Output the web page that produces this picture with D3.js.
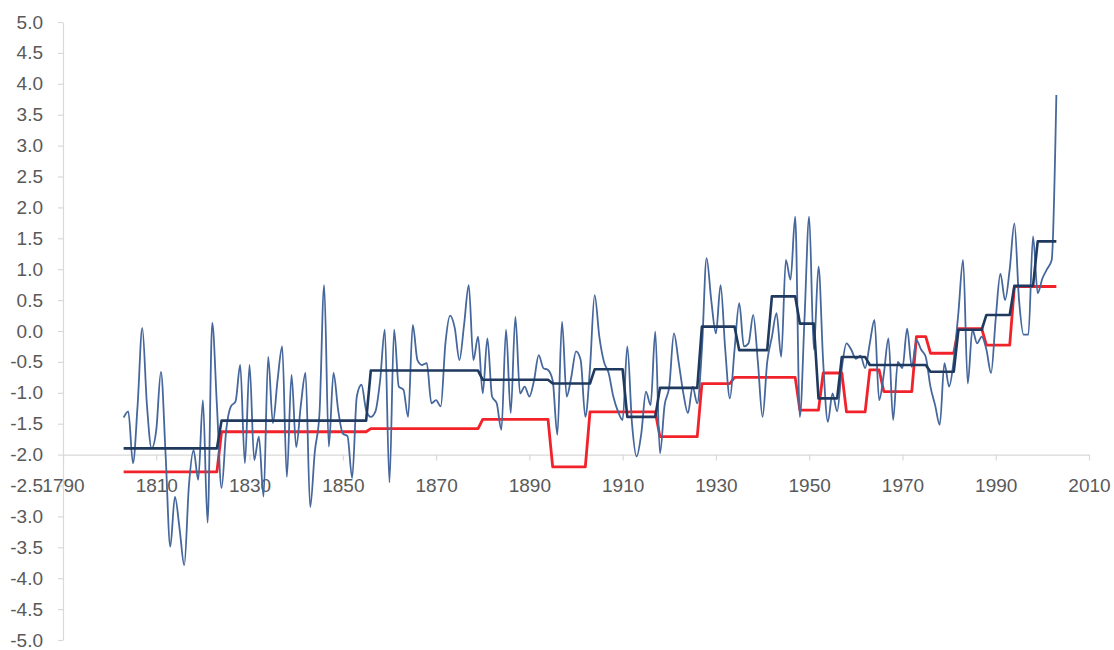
<!DOCTYPE html>
<html>
<head>
<meta charset="utf-8">
<script src="https://cdn.jsdelivr.net/npm/d3@7"></script>
<style>
  html, body { margin: 0; padding: 0; background: #ffffff; }
  svg { display: block; }
  .axis text { font-family: "Liberation Sans", Arial, sans-serif; font-size: 19px; fill: #595959; }
  .axis path, .axis line { stroke: #d9d9d9; stroke-width: 1.2; }
</style>
</head>
<body>
<svg id="chart" width="1114" height="650"></svg>
<script>
// Annual index values, 1803–2003
const firstYear = 1803;
const annualValues = [
  -1.4, -1.3, -2.14, -1.2, 0.05, -1.2, -1.9, -1.6, -0.66, -2.0,          // 1803–1812
  -3.49, -2.68, -3.2, -3.79, -2.5, -1.93, -2.41, -1.12, -3.1, 0.13,       // 1813–1822
  -1.2, -2.54, -1.6, -1.22, -1.14, -0.55, -2.14, -0.55, -2.09, -1.71,     // 1823–1832
  -2.68, -0.42, -1.49, -0.8, -0.25, -2.36, -0.71, -1.88, -1.2, -0.68,     // 1833–1842
  -2.85, -1.95, -1.33, 0.74, -1.87, -0.68, -1.28, -1.66, -1.7, -2.38,     // 1843–1852
  -1.06, -0.87, -1.28, -1.39, -1.3, -0.8, 0.02, -2.45, 0.02, -0.9,        // 1853–1862
  -0.95, -1.39, 0.1, -0.47, -0.55, -0.52, -1.17, -1.12, -1.22, -0.2,      // 1863–1872
  0.25, 0.05, -0.47, 0.1, 0.74, -0.47, -0.09, -1.01, -0.12, -1.06,        // 1873–1882
  -1.17, -1.6, 0.02, -1.33, 0.23, -1.01, -0.9, -1.06, -0.8, -0.39,        // 1883–1892
  -0.6, -0.63, -0.8, -1.68, 0.15, -1.06, -0.74, -0.33, -0.47, -1.39,      // 1893–1902
  -0.6, 0.58, -0.09, -0.5, -0.68, -1.06, -1.3, -1.44, -0.25, -1.49,       // 1903–1912
  -2.03, -1.66, -0.98, -1.2, -0.01, -1.98, -1.2, -0.9, -0.04, -0.5,       // 1913–1922
  -1.0, -1.33, -0.9, -1.17, -0.3, 1.18, 0.5, -0.04, 0.74, -0.3,           // 1923–1932
  -1.09, -0.3, 0.45, -0.25, -0.2, 0.26, -0.5, -1.39, -0.5, -0.1,          // 1933–1942
  0.29, -0.42, 1.15, 0.83, 1.85, -1.39, 0.2, 1.85, -0.3, 1.04,            // 1943–1952
  -0.5, -1.47, -1.01, -1.3, -0.6, -0.2, -0.3, -0.45, -0.4, -0.6,          // 1953–1962
  -0.2, 0.18, -1.12, -0.7, -0.12, -1.44, -0.5, -0.6, 0.04, -0.58,         // 1963–1972
  -0.15, -0.3, -0.42, -0.9, -1.2, -1.52, -0.52, -0.9, -0.47, 0.3,         // 1973–1982
  1.15, -0.85, 0.02, -0.2, -0.09, -0.3, -0.68, 0.2, 0.93, 0.5,            // 1983–1992
  1.0, 1.74, 0.5, -0.06, -0.06, 1.53, 0.61, 0.85, 1.0, 1.15,              // 1993–2002
  3.82                                                                     // 2003
];

// Regime means (navy step line)
const regimeStart = [1803, 1824, 1856, 1880, 1895, 1904, 1911, 1918, 1927, 1935, 1942, 1948, 1952, 1957, 1963, 1976, 1982, 1988, 1994, 1999];
const regimeEnd   = [1823, 1855, 1879, 1894, 1903, 1910, 1917, 1926, 1934, 1941, 1947, 1951, 1956, 1962, 1975, 1981, 1987, 1993, 1998, 2003];
const regimeMean  = [-1.9, -1.45, -0.64, -0.79, -0.85, -0.62, -1.39, -0.92, 0.07, -0.31, 0.56, 0.12, -1.09, -0.42, -0.55, -0.66, 0.02, 0.26, 0.73, 1.45];

// Baseline levels (red step line)
const baseStart = [1803, 1824, 1856, 1880, 1895, 1903, 1918, 1927, 1934, 1948, 1953, 1958, 1963, 1966, 1973, 1976, 1982, 1988, 1994];
const baseEnd   = [1823, 1855, 1879, 1894, 1902, 1917, 1926, 1933, 1947, 1952, 1957, 1962, 1965, 1972, 1975, 1981, 1987, 1993, 2003];
const baseLevel = [-2.28, -1.63, -1.58, -1.43, -2.2, -1.31, -1.71, -0.85, -0.75, -1.28, -0.68, -1.31, -0.63, -0.98, -0.09, -0.36, 0.04, -0.23, 0.72];

// Axis tick values
const xTicks = [1790, 1810, 1830, 1850, 1870, 1890, 1910, 1930, 1950, 1970, 1990, 2010];
const yTicks = [5.0, 4.5, 4.0, 3.5, 3.0, 2.5, 2.0, 1.5, 1.0, 0.5, 0.0, -0.5, -1.0, -1.5, -2.0, -2.5, -3.0, -3.5, -4.0, -4.5, -5.0];
const xCross = -2.0;

const svg = d3.select("#chart");

const x = d3.scaleLinear().domain([1790, 2010]).range([63, 1089]);
const y = d3.scaleLinear().domain([-5, 5]).range([640, 22]);

// Axes
svg.append("g")
  .attr("class", "axis")
  .attr("transform", "translate(63,0)")
  .call(d3.axisLeft(y).tickValues(yTicks).tickSize(5).tickSizeOuter(0).tickPadding(15)
    .tickFormat(d => d.toFixed(1)));

svg.append("g")
  .attr("class", "axis")
  .attr("transform", `translate(0,${y(xCross)})`)
  .call(d3.axisBottom(x).tickValues(xTicks).tickSize(6).tickSizeOuter(0).tickPadding(18)
    .tickFormat(d3.format("d")));

// Build series points
const annual = annualValues.map((v, i) => ({ year: firstYear + i, value: v }));
const stepPoints = (starts, ends, vals) =>
  starts.flatMap((s, i) => [{ year: s, value: vals[i] }, { year: ends[i], value: vals[i] }]);

const straight = d3.line().x(d => x(d.year)).y(d => y(d.value));
const smooth = d3.line().x(d => x(d.year)).y(d => y(d.value)).curve(d3.curveMonotoneX);

svg.append("path")
  .datum(stepPoints(baseStart, baseEnd, baseLevel))
  .attr("fill", "none")
  .attr("stroke", "#f2222b")
  .attr("stroke-width", 2.8)
  .attr("stroke-linejoin", "round")
  .attr("d", straight);

svg.append("path")
  .datum(annual)
  .attr("fill", "none")
  .attr("stroke", "#46679c")
  .attr("stroke-width", 1.8)
  .attr("stroke-linejoin", "round")
  .attr("d", smooth);

svg.append("path")
  .datum(stepPoints(regimeStart, regimeEnd, regimeMean))
  .attr("fill", "none")
  .attr("stroke", "#1f3a5e")
  .attr("stroke-width", 2.6)
  .attr("stroke-linejoin", "round")
  .attr("d", straight);
</script>
</body>
</html>
